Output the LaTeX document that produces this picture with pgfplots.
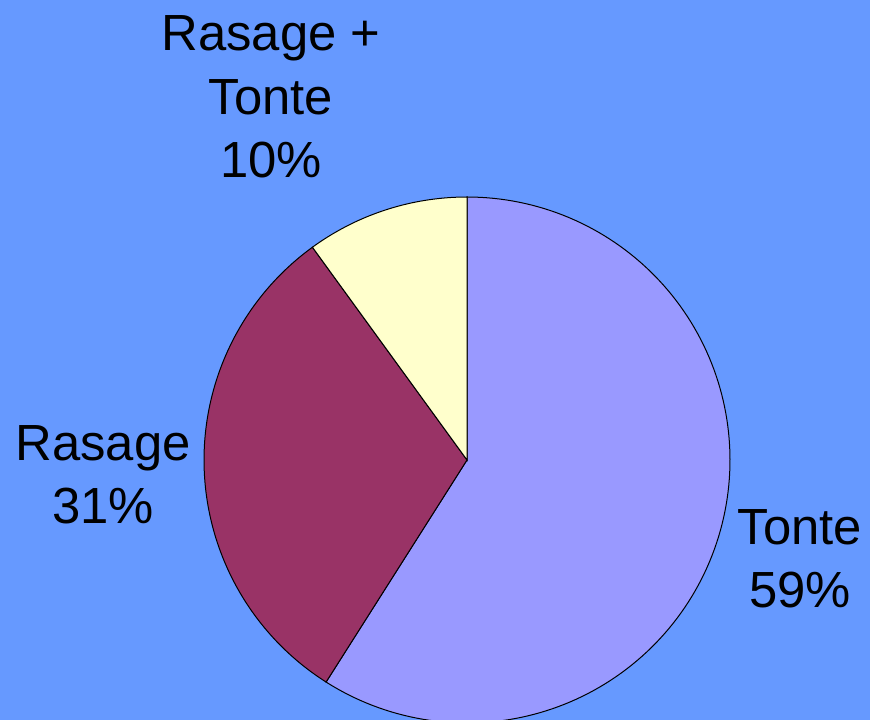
\documentclass[border=0pt]{standalone}
\usepackage{pgfplots}
\pgfplotsset{compat=1.18}
\usepackage{fontspec}
\setmainfont{Liberation Sans}
\definecolor{bgblue}{HTML}{6699FF}
\definecolor{tonte}{HTML}{9999FF}
\definecolor{rasage}{HTML}{993366}
\definecolor{rt}{HTML}{FFFFCC}
% shares (percent)
\def\vTonte{59}
\def\vRasage{31}
\def\vRT{10}
\begin{document}
\begin{tikzpicture}[x=1bp,y=1bp]
\pgfmathsetmacro{\aA}{90}
\pgfmathsetmacro{\aB}{90-3.6*\vTonte}
\pgfmathsetmacro{\aC}{\aB-3.6*\vRasage}
\pgfmathsetmacro{\aD}{\aC-3.6*\vRT}
\fill[bgblue] (0,0) rectangle (870,720);
\begin{axis}[at={(0,0)},anchor=south west,
  width=870bp,height=720bp,scale only axis,hide axis,
  xmin=0,xmax=870,ymin=0,ymax=720,clip=true]
\addplot[fill=tonte,draw=black,line width=1bp,domain=\aA:\aB,samples=150]
  ({467+263*cos(x)},{260+263*sin(x)}) -- (axis cs:467,260) -- cycle;
\addplot[fill=rasage,draw=black,line width=1bp,domain=\aB:\aC,samples=100]
  ({467+263*cos(x)},{260+263*sin(x)}) -- (axis cs:467,260) -- cycle;
\addplot[fill=rt,draw=black,line width=1bp,domain=\aC:\aD,samples=40]
  ({467+263*cos(x)},{260+263*sin(x)}) -- (axis cs:467,260) -- cycle;
\node[align=center,inner sep=0pt,font=\fontsize{51}{63.5}\selectfont] at (axis cs:271,623) {Rasage +\\Tonte\\\vRT\%};
\node[align=center,inner sep=0pt,font=\fontsize{51}{63.5}\selectfont] at (axis cs:103,245) {Rasage\\\vRasage\%};
\node[align=center,inner sep=0pt,font=\fontsize{51}{63.5}\selectfont] at (axis cs:800,161) {Tonte\\\vTonte\%};
\end{axis}
\end{tikzpicture}
\end{document}
